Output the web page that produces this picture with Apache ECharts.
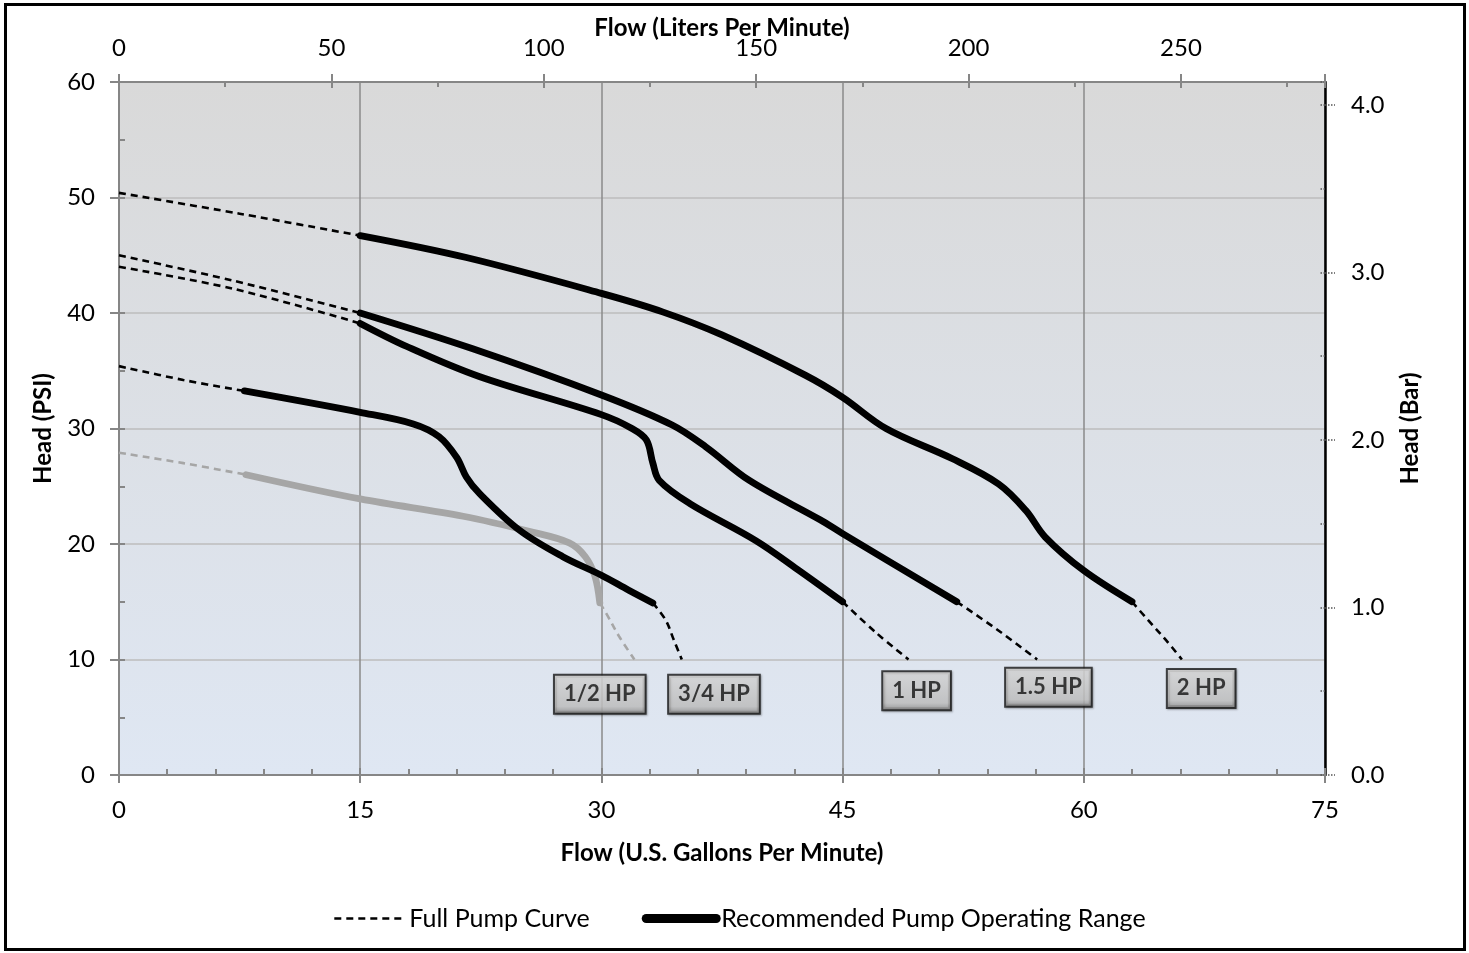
<!DOCTYPE html>
<html>
<head>
<meta charset="utf-8">
<script src="https://cdn.jsdelivr.net/npm/echarts@6/dist/echarts.min.js"></script>
<style>
html,body{margin:0;padding:0;background:#fff;}
#chart{width:1469px;height:953px;}
</style>
</head>
<body>
<div id="chart"></div>
<script>
// ---- data (GPM, PSI) ----
const hp2Full1 = [[0,50.4],[7.5,48.6],[15,46.7]];
const hp2Range = [[15,46.7],[21.6,44.8],[30,41.7],[33.8,40.1],[37.5,38.1],[42.7,34.6],[45,32.7],[47.7,30.0],[51.8,27.4],[54.7,25.2],[56.4,22.9],[57.6,20.6],[60,17.7],[63,15.0]];
const hp2Full2 = [[63,15.0],[64.0,13.4],[65.1,11.7],[66.1,10]];

const hp15Full1 = [[0,45.0],[7.1,42.8],[15,40.0]];
const hp15Range = [[15,40.0],[22,36.9],[30,32.9],[34.4,30.3],[36.5,28.4],[39.2,25.5],[43.6,22.1],[45,20.9],[52.1,15.0]];
const hp15Full2 = [[52.1,15.0],[54.6,12.6],[57.1,10]];

const hp1Full1 = [[0,44.0],[7.1,42.1],[15,39.1]];
const hp1Range = [[15,39.1],[17.9,37.1],[22.4,34.5],[30,31.2],[31.9,30.0],[32.8,29.0],[33.2,27.0],[33.6,25.5],[35.5,23.5],[39.6,20.3],[42.2,17.8],[45,15.0]];
const hp1Full2 = [[45,15.0],[47.1,12.3],[49.1,10]];

const hp34Full1 = [[0,35.4],[4,34.2],[7.8,33.25]];
const hp34Range = [[7.8,33.25],[15,31.4],[18.3,30.4],[19.9,29.3],[21.0,27.5],[21.6,25.8],[22.4,24.4],[24.9,21.2],[27.6,18.9],[30,17.3],[31.7,16.0],[33.2,14.9]];
const hp34Full2 = [[33.2,14.9],[34.0,13.4],[34.5,11.7],[35,10]];

const hp12Full1 = [[0,27.9],[4,27.0],[7.9,26.0]];
const hp12Range = [[7.9,26.0],[15,23.9],[21.4,22.4],[25.5,21.1],[28.0,20.1],[29.0,18.9],[29.6,17.2],[29.9,14.9]];
const hp12Full2 = [[29.9,14.9],[30.3,14.0],[31.1,12.0],[32.05,10]];

const hpLabels = ['1/2 HP','3/4 HP','1 HP','1.5 HP','2 HP'];
const hpLabelX = [29.9, 37.0, 49.6, 57.8, 67.3];
const hpLabelY = [7.0, 7.0, 7.3, 7.6, 7.5];

const gpmMax = 75, gpmStep = 15;
const psiMax = 60, psiStep = 10;
const lpmMax = gpmMax * 3.785411784, lpmStep = 50;
const barMax = psiMax / 14.5037738, barStep = 1;

// ---- styles ----
const FONT = 'Lato, Carlito, Calibri, sans-serif';
const FULL = 'Full Pump Curve';
const REC = 'Recommended Pump Operating Range';
const dashStyle = (c) => ({color: c, width: 2.6, type: [7,5], cap: 'butt'});
const solidStyle = (c) => ({color: c, width: 6.8, cap: 'round', join: 'round'});

function lineSeries(name, data, style, z){
  return {name, type:'line', data, xAxisIndex:0, yAxisIndex:0, showSymbol:false, symbol:'none',
    smooth:0.35, lineStyle: style, itemStyle:{color: style.color}, z: z||2, silent:true, animation:false};
}

const series = [
  lineSeries(FULL, hp2Full1, dashStyle('#000')),
  lineSeries(REC, hp2Range, solidStyle('#000'), 3),
  lineSeries(FULL, hp2Full2, dashStyle('#000')),
  lineSeries(FULL, hp15Full1, dashStyle('#000')),
  lineSeries(REC, hp15Range, solidStyle('#000'), 3),
  lineSeries(FULL, hp15Full2, dashStyle('#000')),
  lineSeries(FULL, hp1Full1, dashStyle('#000')),
  lineSeries(REC, hp1Range, solidStyle('#000'), 3),
  lineSeries(FULL, hp1Full2, dashStyle('#000')),
  lineSeries(FULL, hp34Full1, dashStyle('#000')),
  lineSeries(REC, hp34Range, solidStyle('#000'), 4),
  lineSeries(FULL, hp34Full2, dashStyle('#000')),
  lineSeries('half-dash1', hp12Full1, dashStyle('#a6a6a6')),
  lineSeries('half-range', hp12Range, solidStyle('#a6a6a6'), 3),
  lineSeries('half-dash2', hp12Full2, dashStyle('#a6a6a6')),
  {
    type:'scatter', xAxisIndex:0, yAxisIndex:0, symbolSize:0, z:10, silent:true, animation:false,
    data: hpLabels.map((t,i)=>({value:[hpLabelX[i], hpLabelY[i]], name:t})),
    label:{show:true, position:'inside', formatter: p => p.name,
      fontFamily: FONT, fontWeight:'bold', fontSize:22, color:'#111',
      padding:[8,9,7,9], borderColor:'#1a1a1a', borderWidth:2,
      backgroundColor: new echarts.graphic.LinearGradient(0,0,0,1,[
        {offset:0,color:'#f4f4f4'},{offset:0.15,color:'#dedede'},{offset:0.8,color:'#c9c9c9'},{offset:1,color:'#8e8e8e'}]),
      shadowColor:'rgba(0,0,0,0.35)', shadowBlur:2, shadowOffsetX:1, shadowOffsetY:1
    }
  }
];

const axisGray = '#868686';
const labelStyle = {fontFamily: FONT, fontSize: 24, color:'#000'};
const nameStyle = {fontFamily: FONT, fontSize: 24, fontWeight:'bold', color:'#000'};

const option = {
  animation:false,
  backgroundColor:'#fff',
  grid:{left:119, right:144, top:82, bottom:178, show:true, borderWidth:0,
    backgroundColor: new echarts.graphic.LinearGradient(0,0,0,1,[{offset:0,color:'#d9d9d9'},{offset:1,color:'#dfe7f3'}])},
  legend:{
    left:328, top:901, itemWidth:70, itemGap:52, itemHeight:16,
    itemStyle:{opacity:0},
    data:[
      {name:FULL, lineStyle:{width:2.6, type:[7,5], color:'#000'}},
      {name:REC, lineStyle:{width:9, cap:'round', color:'#000'}}
    ],
    textStyle:{fontFamily: FONT, fontSize:25, color:'#000'},
    selectedMode:false
  },
  xAxis:[
    {type:'value', position:'bottom', min:0, max:gpmMax, interval:gpmStep,
     name:'Flow (U.S. Gallons Per Minute)', nameLocation:'middle', nameGap:66, nameTextStyle:nameStyle,
     axisLine:{show:true, onZero:false, lineStyle:{color:axisGray, width:2}},
     axisTick:{show:true, inside:true, length:7, lineStyle:{color:axisGray, width:2}},
     minorTick:{show:true, splitNumber:5, length:6, lineStyle:{color:axisGray, width:2}},
     axisLabel:{...labelStyle, margin:23},
     splitLine:{show:true, lineStyle:{color:'#8a8a8a', width:1.5}}},
    {type:'value', position:'top', min:0, max:lpmMax, interval:lpmStep,
     name:'Flow (Liters Per Minute)', nameLocation:'middle', nameGap:42, nameMoveOverlap:false, nameTextStyle:nameStyle,
     axisLine:{show:true, onZero:false, lineStyle:{color:axisGray, width:2}},
     axisTick:{show:true, inside:true, length:6, lineStyle:{color:axisGray, width:2}},
     minorTick:{show:true, splitNumber:2, length:5, lineStyle:{color:axisGray, width:2}},
     axisLabel:{...labelStyle, margin:22, showMaxLabel:false,
       formatter: v => (Math.abs(v % lpmStep) < 1e-6 ? String(v) : '')},
     splitLine:{show:false}},
    {type:'value', position:'bottom', min:0, max:gpmMax, interval:gpmStep,
     axisLine:{show:false, onZero:false}, axisLabel:{show:false}, splitLine:{show:false},
     axisTick:{show:true, inside:false, length:8, lineStyle:{color:axisGray, width:2}}},
    {type:'value', position:'top', min:0, max:lpmMax, interval:lpmStep,
     axisLine:{show:false, onZero:false}, axisLabel:{show:false}, splitLine:{show:false},
     axisTick:{show:true, inside:false, length:8, lineStyle:{color:axisGray, width:2}}}
  ],
  yAxis:[
    {type:'value', position:'left', min:0, max:psiMax, interval:psiStep,
     name:'Head (PSI)', nameLocation:'middle', nameGap:64, nameRotate:90, nameTextStyle:nameStyle,
     axisLine:{show:true, onZero:false, lineStyle:{color:axisGray, width:2}},
     axisTick:{show:true, inside:false, length:9, lineStyle:{color:axisGray, width:2}},
     axisLabel:{...labelStyle, margin:24},
     splitLine:{show:true, lineStyle:{color:'#bdbdbd', width:1.5}}},
    {type:'value', position:'right', min:0, max:barMax, interval:barStep,
     name:'Head (Bar)', nameLocation:'middle', nameGap:73, nameRotate:90, nameTextStyle:nameStyle,
     axisLine:{show:true, onZero:false, lineStyle:{color:'#000', width:2.5}},
     axisTick:{show:true, inside:false, length:10, lineStyle:{color:'#555', width:1.5, type:'dotted'}},
     axisLabel:{...labelStyle, margin:26, showMaxLabel:false,
       formatter: v => (Math.abs(v - Math.round(v)) < 1e-6 ? v.toFixed(1) : '')},
     splitLine:{show:false}},
    {type:'value', position:'left', min:0, max:psiMax, interval:psiStep/2,
     axisLine:{show:false, onZero:false}, axisLabel:{show:false}, splitLine:{show:false},
     axisTick:{show:true, inside:true, length:6, lineStyle:{color:axisGray, width:2}}},
    {type:'value', position:'right', min:0, max:barMax, interval:barStep/2,
     axisLine:{show:false, onZero:false}, axisLabel:{show:false}, splitLine:{show:false},
     axisTick:{show:true, inside:true, length:6, lineStyle:{color:'#555', width:1.5, type:'dotted'}}}
  ],
  graphic:[
    {type:'rect', silent:true, z:100, shape:{x:5.5, y:4.5, width:1459, height:945},
     style:{fill:null, stroke:'#000', lineWidth:3}}
  ],
  series
};

const chart = echarts.init(document.getElementById('chart'), null, {renderer:'canvas'});
chart.setOption(option);
</script>
</body>
</html>
